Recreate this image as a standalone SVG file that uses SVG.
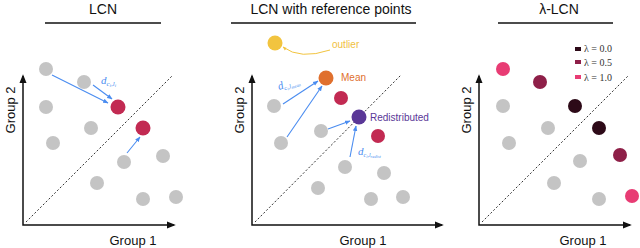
<svg xmlns="http://www.w3.org/2000/svg" width="640" height="248" viewBox="0 0 640 248">
<defs>
<style>
.t{font-family:"Liberation Sans",Arial,sans-serif;font-size:14px;fill:#111;text-anchor:middle}
.ax{font-family:"Liberation Sans",Arial,sans-serif;font-size:13px;fill:#111;text-anchor:middle}
.hr{stroke:#111;stroke-width:1.3}
.axis{stroke:#111;stroke-width:1.5;fill:none}
.dot{stroke:#333;stroke-width:1;stroke-dasharray:2 2;fill:none}
.g{fill:#c4c4c4}
.r{fill:#c22a52}
.ar{stroke:#4a8cf0;stroke-width:1.1;fill:none}
.math{font-family:"Liberation Serif","Times New Roman",serif;font-style:italic;fill:#4a8cf0}
.lg{font-family:"Liberation Serif","Times New Roman",serif;font-size:10px;fill:#333}
</style>
<marker id="ah" viewBox="0 0 10 10" refX="9" refY="5" markerWidth="5" markerHeight="5" orient="auto"><path d="M0,1 L10,5 L0,9 z" fill="#4a8cf0"/></marker>
<marker id="ay" viewBox="0 0 10 10" refX="9" refY="5" markerWidth="4" markerHeight="4" orient="auto"><path d="M0,1 L10,5 L0,9 z" fill="#f2c43f"/></marker>
<marker id="ak" viewBox="0 0 10 10" refX="8" refY="5" markerWidth="6" markerHeight="6" orient="auto-start-reverse"><path d="M0,1 L10,5 L0,9 z" fill="#111"/></marker>
</defs>

<!-- Panel 1 -->
<g id="panel1">
<text class="t" x="103" y="14">LCN</text>
<line class="hr" x1="45" y1="23" x2="161" y2="23"/>
<line class="dot" x1="26" y1="222" x2="173" y2="75"/>
<path class="axis" d="M23,76 L23,225 L174,225" marker-start="url(#ak)" marker-end="url(#ak)"/>
<text class="ax" x="10" y="110" transform="rotate(-90 10 110)" dy="5">Group 2</text>
<text class="ax" x="133" y="245">Group 1</text>
<g id="p1-points">
<circle class="g" cx="46" cy="69" r="7"/>
<circle class="g" cx="84" cy="82" r="7"/>
<circle class="g" cx="46" cy="107" r="7"/>
<circle class="g" cx="91" cy="128" r="7"/>
<circle class="g" cx="53" cy="143" r="7"/>
<circle class="g" cx="124" cy="162" r="7"/>
<circle class="g" cx="163" cy="156" r="7"/>
<circle class="g" cx="97" cy="183" r="7"/>
<circle class="g" cx="143" cy="199" r="7"/>
<circle class="g" cx="176" cy="197" r="7"/>
<circle class="r" cx="118" cy="107" r="7.5"/>
<circle class="r" cx="143" cy="128" r="7.5"/>
</g>
</g>

<!-- Panel 2 -->
<g id="panel2">
<text class="t" x="331" y="14">LCN with reference points</text>
<line class="hr" x1="231" y1="23" x2="416" y2="23"/>
<line class="dot" x1="255" y1="222" x2="401" y2="75"/>
<path class="axis" d="M252,76 L252,225 L442,225" marker-start="url(#ak)" marker-end="url(#ak)"/>
<text class="ax" x="239" y="110" transform="rotate(-90 239 110)" dy="5">Group 2</text>
<text class="ax" x="363" y="245">Group 1</text>
<g id="p2-points">
<circle class="g" cx="274" cy="106" r="7"/>
<circle class="g" cx="281" cy="143" r="7"/>
<circle class="g" cx="321" cy="131" r="7"/>
<circle class="g" cx="345" cy="167" r="7"/>
<circle class="g" cx="384" cy="173" r="7"/>
<circle class="g" cx="318" cy="188" r="7"/>
<circle class="g" cx="371" cy="199" r="7"/>
<circle class="g" cx="403" cy="197" r="7"/>
<circle class="r" cx="341" cy="98" r="7"/>
<circle class="r" cx="378" cy="136" r="7"/>
</g>
<g id="outlier">
<circle cx="275" cy="43" r="7.5" fill="#f2c43f"/>
<text x="332" y="48" font-family="Liberation Sans,Arial,sans-serif" font-size="10" fill="#f0c040">outlier</text>
</g>
<g id="mean">
<circle cx="326" cy="78" r="7.5" fill="#e0702e"/>
<text x="341" y="81" font-family="Liberation Sans,Arial,sans-serif" font-size="10" fill="#e0702e">Mean</text>
</g>
<g id="redistributed">
<circle cx="359" cy="117" r="7.5" fill="#5a3797"/>
<text x="370" y="121" font-family="Liberation Sans,Arial,sans-serif" font-size="10" fill="#5a3797">Redistributed</text>
</g>
</g>

<!-- Panel 3 -->
<g id="panel3">
<text class="t" x="559" y="14">λ-LCN</text>
<line class="hr" x1="498" y1="23" x2="613" y2="23"/>
<line class="dot" x1="482" y1="222" x2="629" y2="75"/>
<path class="axis" d="M479,76 L479,225 L630,225" marker-start="url(#ak)" marker-end="url(#ak)"/>
<text class="ax" x="466" y="110" transform="rotate(-90 466 110)" dy="5">Group 2</text>
<text class="ax" x="583" y="245">Group 1</text>
<g id="legend">
<rect x="575" y="47" width="6" height="4" fill="#2d0a18"/>
<text class="lg" x="584" y="52">λ = 0.0</text>
<rect x="575" y="60" width="6" height="4" fill="#8e1f48"/>
<text class="lg" x="584" y="66">λ = 0.5</text>
<rect x="575" y="75" width="6" height="4" fill="#e83c74"/>
<text class="lg" x="584" y="81">λ = 1.0</text>
</g>
<g id="p3-points">
<circle class="g" cx="503" cy="106" r="7"/>
<circle class="g" cx="548" cy="128" r="7"/>
<circle class="g" cx="509" cy="143" r="7"/>
<circle class="g" cx="580" cy="161" r="7"/>
<circle class="g" cx="554" cy="183" r="7"/>
<circle class="g" cx="599" cy="199" r="7"/>
<circle cx="503" cy="69" r="7" fill="#e83c74"/>
<circle cx="540" cy="82" r="7" fill="#8e1f48"/>
<circle cx="575" cy="106" r="7" fill="#2d0a18"/>
<circle cx="599" cy="128" r="7" fill="#2d0a18"/>
<circle cx="620" cy="155" r="7" fill="#8e1f48"/>
<circle cx="632" cy="196" r="7" fill="#e83c74"/>
</g>
</g>

<!-- Connectors -->
<g id="connectors">
<line class="ar" x1="52" y1="75" x2="108" y2="103" marker-end="url(#ah)"/>
<line class="ar" x1="93" y1="85" x2="112" y2="99" marker-end="url(#ah)"/>
<line class="ar" x1="127" y1="153" x2="140" y2="137" marker-end="url(#ah)"/>
<text class="math" x="101" y="84" font-size="11">d<tspan font-size="7" dy="2">c<tspan font-size="5" dy="1">i</tspan><tspan dy="-1">,l</tspan><tspan font-size="5" dy="1">i</tspan></tspan></text>
<path d="M330,50 Q300,60 283,47" stroke="#f2c43f" stroke-width="1" fill="none" marker-end="url(#ay)"/>
<line class="ar" x1="283" y1="104" x2="318" y2="81" marker-end="url(#ah)"/>
<line class="ar" x1="287" y1="137" x2="322" y2="86" marker-end="url(#ah)"/>
<line class="ar" x1="328" y1="129" x2="350" y2="121" marker-end="url(#ah)"/>
<line class="ar" x1="350" y1="157" x2="356" y2="126" marker-end="url(#ah)"/>
<text class="math" x="279" y="90" font-size="11" transform="rotate(-18 279 90)">d<tspan font-size="6" dy="2">c<tspan font-size="4.5" dy="1">i</tspan><tspan dy="-1">,l</tspan><tspan font-size="4.5" dy="1">mean</tspan></tspan></text>
<text class="math" x="358" y="155" font-size="11">d<tspan font-size="6" dy="2">c<tspan font-size="4.5" dy="1">i</tspan><tspan dy="-1">,l</tspan><tspan font-size="4.5" dy="1">redist</tspan></tspan></text>
</g>
</svg>
